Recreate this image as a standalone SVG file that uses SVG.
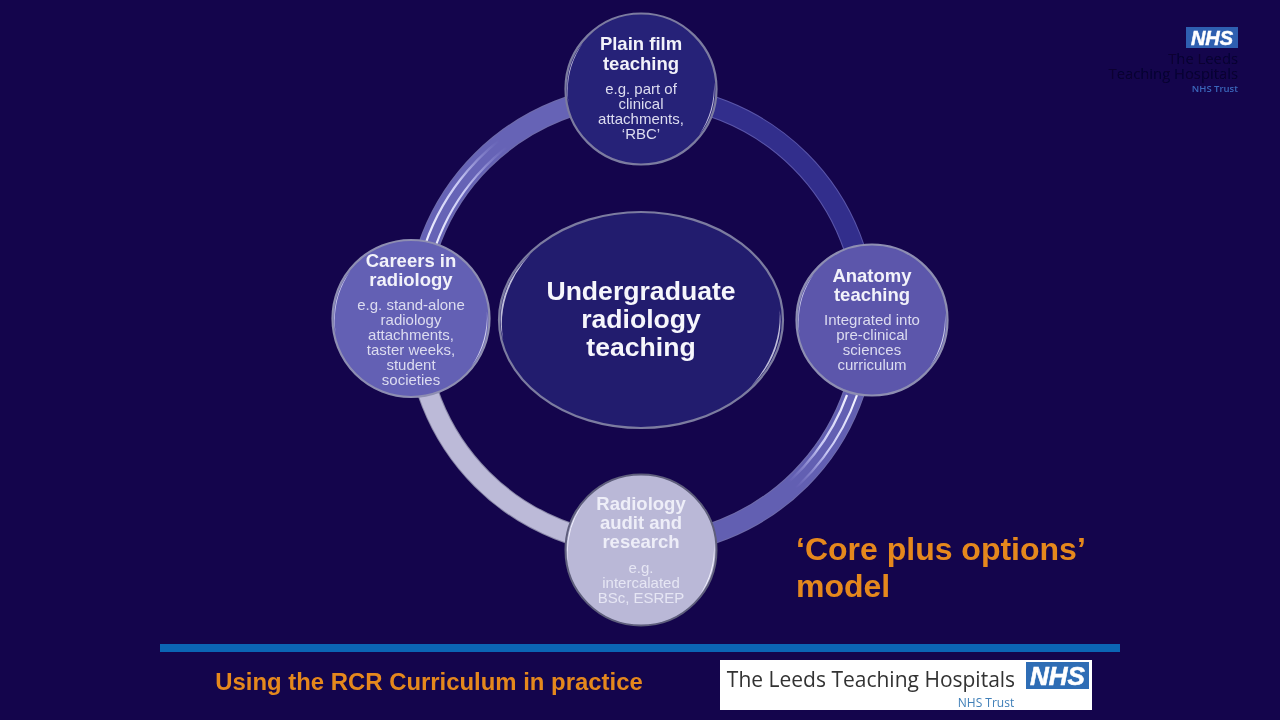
<svg xmlns="http://www.w3.org/2000/svg" width="1280" height="720" viewBox="0 0 1280 720">
<style>
text{font-family:"Liberation Sans",Arial,sans-serif;text-anchor:middle}
.h{font-weight:700;font-size:18.500px;fill:#f2f2fa}
.s{font-size:15px;fill:#dcdcf0}
.bandrim{fill:none;stroke-width:21.5}
.band{fill:none;stroke-width:19.5}
.line{fill:none;stroke-width:2.2}
.glint{fill:#f4f4ff;opacity:.75}
.or{font-weight:700;fill:#e5881f}
.big{font-size:26.600px;font-weight:700;fill:#f6f6fc}
.lg{font-family:"Open Sans",sans-serif}
</style>
<defs>
<filter id="soft" x="-5%" y="-5%" width="110%" height="110%"><feGaussianBlur stdDeviation="0.55"/></filter>
<filter id="softer" x="-5%" y="-5%" width="110%" height="110%"><feGaussianBlur stdDeviation="0.3"/></filter>
<linearGradient id="fadeA" gradientUnits="userSpaceOnUse" x1="425" y1="245" x2="510" y2="150"><stop offset="0" stop-color="#f2f2ff"/><stop offset=".55" stop-color="#c8c8f4"/><stop offset="1" stop-color="#9a98de" stop-opacity="0"/></linearGradient>
<linearGradient id="fadeB" gradientUnits="userSpaceOnUse" x1="850" y1="395" x2="780" y2="475"><stop offset="0" stop-color="#f2f2ff"/><stop offset=".55" stop-color="#c8c8f4"/><stop offset="1" stop-color="#9a98de" stop-opacity="0"/></linearGradient>
<path id="glintL" d="M-72.500 14A74 74 0 0 1 -58 -46A86 86 0 0 0 -72.500 14Z"/>
<path id="glintR" d="M73 -7A74 74 0 0 1 58 46A90 90 0 0 0 73 -7Z"/>
</defs>
<rect width="1280" height="720" fill="#14054c"/>
<g id="connectors" filter="url(#soft)">
<path class="bandrim" stroke="#5a56aa" d="M641 95A225 225 0 0 1 866 320"/>
<path class="band" stroke="#332e8c" d="M641 95A225 225 0 0 1 866 320"/>
<path class="bandrim" stroke="#6f6cab" d="M866 320A225 225 0 0 1 641 545"/>
<path class="band" stroke="#625eb2" d="M866 320A225 225 0 0 1 641 545"/>
<path class="line" stroke="url(#fadeB)" d="M857 395A229 229 0 0 1 772 507"/>
<path class="line" stroke="url(#fadeB)" d="M847 395A219 219 0 0 1 766 500"/>
<path class="bandrim" stroke="#8a88a8" d="M641 545A225 225 0 0 1 416 320"/>
<path class="band" stroke="#bcbad8" d="M641 545A225 225 0 0 1 416 320"/>
<path class="bandrim" stroke="#6f6cab" d="M416 320A225 225 0 0 1 641 95"/>
<path class="band" stroke="#6663b6" d="M416 320A225 225 0 0 1 641 95"/>
<path class="line" stroke="url(#fadeA)" d="M425 245A229 229 0 0 1 535 117"/>
<path class="line" stroke="url(#fadeA)" d="M436 245A219 219 0 0 1 541 125"/>
</g>
<g id="node-centre">
<g filter="url(#soft)">
<ellipse cx="641" cy="320" rx="142" ry="108" fill="#231c6e" stroke="#7c7ca0" stroke-width="2.2"/>
<use href="#glintL" class="glint" transform="translate(641 320) scale(1.9 1.44)"/>
<use href="#glintR" class="glint" transform="translate(641 320) scale(1.9 1.44)"/>
</g>
<g filter="url(#softer)">
<text class="big" x="641" y="300">Undergraduate</text>
<text class="big" x="641" y="328">radiology</text>
<text class="big" x="641" y="356">teaching</text>
</g>
</g>
<g id="node-plain-film">
<g filter="url(#soft)">
<circle cx="641" cy="89" r="75.5" fill="#272078" stroke="#7c7ca0" stroke-width="2.2"/>
<use href="#glintL" class="glint" x="641" y="89"/>
<use href="#glintR" class="glint" x="641" y="89"/>
</g>
<g filter="url(#softer)">
<text class="h" x="641" y="50">Plain film</text>
<text class="h" x="641" y="70">teaching</text>
<text class="s" x="641" y="94">e.g. part of</text>
<text class="s" x="641" y="109">clinical</text>
<text class="s" x="641" y="124">attachments,</text>
<text class="s" x="641" y="139">‘RBC’</text>
</g>
</g>
<g id="node-anatomy">
<g filter="url(#soft)">
<circle cx="872" cy="320" r="75.5" fill="#5b57ab" stroke="#8e8eb2" stroke-width="2.2"/>
<use href="#glintL" class="glint" x="872" y="320"/>
<use href="#glintR" class="glint" x="872" y="320"/>
</g>
<g filter="url(#softer)">
<text class="h" x="872" y="282">Anatomy</text>
<text class="h" x="872" y="301">teaching</text>
<text class="s" x="872" y="325">Integrated into</text>
<text class="s" x="872" y="340">pre-clinical</text>
<text class="s" x="872" y="355">sciences</text>
<text class="s" x="872" y="370">curriculum</text>
</g>
</g>
<g id="node-careers">
<g filter="url(#soft)">
<circle cx="411" cy="318.500" r="78.5" fill="#6460b4" stroke="#8e8eb2" stroke-width="2.2"/>
<use href="#glintL" class="glint" transform="translate(411 318.500) scale(1.04)"/>
<use href="#glintR" class="glint" transform="translate(411 318.500) scale(1.04)"/>
</g>
<g filter="url(#softer)">
<text class="h" x="411" y="267">Careers in</text>
<text class="h" x="411" y="286">radiology</text>
<text class="s" x="411" y="310">e.g. stand-alone</text>
<text class="s" x="411" y="325">radiology</text>
<text class="s" x="411" y="340">attachments,</text>
<text class="s" x="411" y="355">taster weeks,</text>
<text class="s" x="411" y="370">student</text>
<text class="s" x="411" y="385">societies</text>
</g>
</g>
<g id="node-audit">
<g filter="url(#soft)">
<circle cx="641" cy="550" r="75.5" fill="#bab8d7" stroke="#5e5e7c" stroke-width="2"/>
<use href="#glintL" class="glint" x="641" y="550" style="opacity:.95"/>
<use href="#glintR" class="glint" x="641" y="550" style="opacity:.95"/>
</g>
<g filter="url(#softer)">
<text class="h" x="641" y="510" style="fill:#eeeef8">Radiology</text>
<text class="h" x="641" y="529" style="fill:#eeeef8">audit and</text>
<text class="h" x="641" y="548" style="fill:#eeeef8">research</text>
<text class="s" x="641" y="573" style="fill:#e6e6f4">e.g.</text>
<text class="s" x="641" y="588" style="fill:#e6e6f4">intercalated</text>
<text class="s" x="641" y="603" style="fill:#e6e6f4">BSc, ESREP</text>
</g>
</g>
<g id="logo-top" filter="url(#softer)">
<rect x="1186" y="27" width="52" height="21" fill="#2f5fb0"/>
<text x="1212" y="45" font-size="20" font-weight="700" font-style="italic" fill="#fff" stroke="#fff" stroke-width=".5">NHS</text>
<text class="lg" x="1238" y="64" font-size="14.800" style="text-anchor:end" fill="#080530">The Leeds</text>
<text class="lg" x="1238" y="79" font-size="14.800" style="text-anchor:end" fill="#080530">Teaching Hospitals</text>
<text class="lg" x="1238" y="92" font-size="9.500" font-weight="600" style="text-anchor:end" fill="#3a66bb">NHS Trust</text>
</g>
<g id="caption" filter="url(#softer)">
<text class="or" x="796" y="560" font-size="32" style="text-anchor:start">‘Core plus options’</text>
<text class="or" x="796" y="597" font-size="32" style="text-anchor:start">model</text>
</g>
<rect id="rule" x="160" y="644" width="960" height="8" fill="#0b65b4"/>
<text id="footer" class="or" x="429" y="690" font-size="23.900" filter="url(#softer)">Using the RCR Curriculum in practice</text>
<g id="logo-bottom" filter="url(#softer)">
<rect x="720" y="660" width="372" height="50" fill="#fff"/>
<text class="lg" x="871" y="687" font-size="21" fill="#333">The Leeds Teaching Hospitals</text>
<rect x="1026" y="662" width="63" height="27" fill="#2f6db5"/>
<text x="1057.500" y="685" font-size="26" font-weight="700" font-style="italic" fill="#fff" stroke="#fff" stroke-width=".6">NHS</text>
<text class="lg" x="986" y="707" font-size="12" fill="#3f7fb8">NHS Trust</text>
</g>
</svg>
